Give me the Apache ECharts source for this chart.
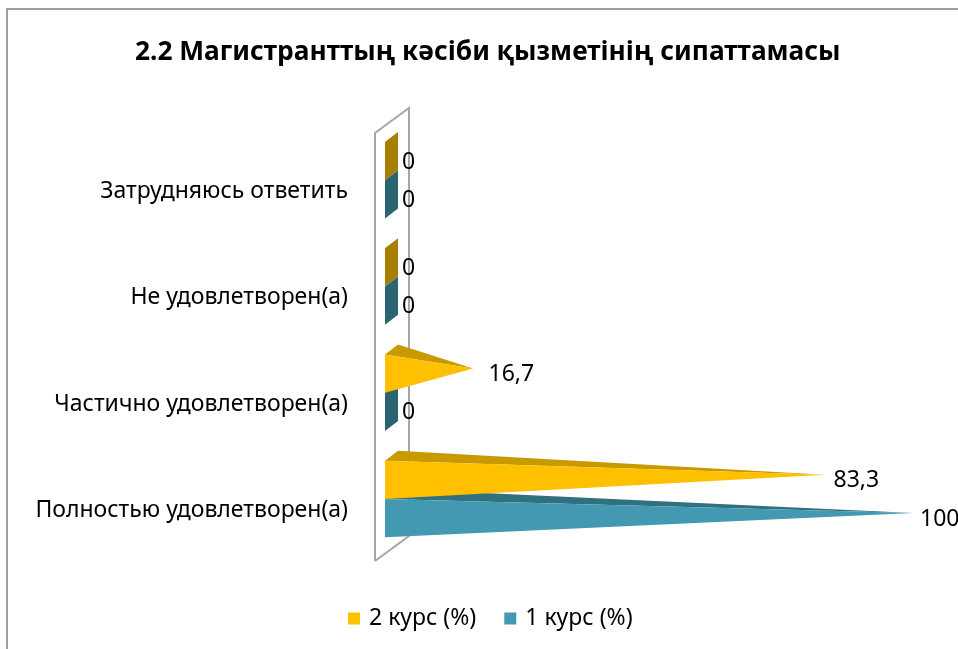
<!DOCTYPE html>
<html>
<head>
<meta charset="utf-8">
<script src="https://cdn.jsdelivr.net/npm/echarts@6/dist/echarts.min.js"></script>
<style>
html,body{margin:0;padding:0;background:#fff;}
#chart{width:958px;height:649px;}
</style>
</head>
<body>
<div id="chart"></div>
<script>
var titleText = '2.2 Магистранттың кәсіби қызметінің сипаттамасы';
var categories = ['Полностью удовлетворен(а)', 'Частично удовлетворен(а)', 'Не удовлетворен(а)', 'Затрудняюсь ответить'];
var seriesNames = ['2 курс (%)', '1 курс (%)'];
var course2 = [83.3, 16.7, 0, 0];
var course1 = [100, 0, 0, 0];

var FONT = 'Noto Sans';
var palettes = [
  {front: '#FFC000', top: '#C99A00', flat: '#A77E00'},
  {front: '#4299B1', top: '#31717F', flat: '#2A6473'}
];

function fmt(v) { return String(v).replace('.', ','); }

function makeRender(sIdx) {
  var pal = palettes[sIdx];
  return function (params, api) {
    var v = api.value(0), c = api.value(1);
    var p0 = api.coord([0, c]);
    var pt = api.coord([v, c]);
    var band = api.size([0, 1])[1];
    var h = band * 0.36;
    var dx = h * 0.34, dy = -h * 0.26;
    var top = sIdx === 0 ? p0[1] - h : p0[1];
    var bot = top + h;
    var x0 = p0[0];
    var children = [];
    if (v === 0) {
      children.push({type: 'polygon', shape: {points: [[x0, top], [x0 + dx, top + dy], [x0 + dx, bot + dy], [x0, bot]]}, style: {fill: pal.flat}});
    } else {
      var tip = [pt[0], (top + bot) / 2 + dy / 2];
      children.push({type: 'polygon', shape: {points: [[x0, top], [x0 + dx, top + dy], tip]}, style: {fill: pal.top}});
      children.push({type: 'polygon', shape: {points: [[x0, top], [x0, bot], tip]}, style: {fill: pal.front}});
    }
    children.push({type: 'text', style: {text: fmt(v), x: pt[0] + 17 - 0.1 * v, y: (top + bot) / 2 + 1, fill: '#000', fontSize: 23, fontFamily: FONT, align: 'left', verticalAlign: 'middle'}});
    return {type: 'group', children: children};
  };
}

function wallRender(params, api) {
  var cs = params.coordSys;
  var fx = cs.x - 10, ty = cs.y + 6, by = cs.y + cs.height + 9;
  var bx = 34, byo = -25;
  return {type: 'polyline', shape: {points: [[fx, by], [fx, ty], [fx + bx, ty + byo], [fx + bx, by + byo], [fx, by]]}, style: {stroke: '#A6A6A6', lineWidth: 2, fill: null}};
}

function toData(arr) { return arr.map(function (v, i) { return [v, i]; }); }

var chart = echarts.init(document.getElementById('chart'));
chart.setOption({
  backgroundColor: '#fff',
  animation: false,
  title: {text: titleText, left: 130, top: 35, textStyle: {fontFamily: FONT, fontSize: 26.3, fontWeight: 'bold', color: '#000'}},
  graphic: [{type: 'rect', shape: {x: 7, y: 9, width: 1000, height: 700}, style: {fill: null, stroke: '#A0A0A0', lineWidth: 2}, z: 100}],
  legend: {data: seriesNames, bottom: 14, left: 343, icon: 'rect', itemWidth: 12, itemHeight: 12, itemGap: 28,
    textStyle: {fontFamily: FONT, fontSize: 23, color: '#000', padding: [0, 0, 0, 4]}},
  grid: {left: 385, right: 45, top: 127, bottom: 97},
  xAxis: {type: 'value', min: 0, max: 100, show: false},
  yAxis: {type: 'category', data: categories, axisLine: {show: false}, axisTick: {show: false}, splitLine: {show: false},
    axisLabel: {fontFamily: FONT, fontSize: 23, lineHeight: 23, color: '#000', margin: 37, verticalAlign: 'top'}},
  series: [
    {type: 'custom', name: 'wall', data: [[0, 0]], renderItem: wallRender, silent: true, z: 1},
    {type: 'custom', name: seriesNames[1], data: toData(course1), encode: {x: 0, y: 1}, renderItem: makeRender(1), itemStyle: {color: palettes[1].front}, z: 2},
    {type: 'custom', name: seriesNames[0], data: toData(course2), encode: {x: 0, y: 1}, renderItem: makeRender(0), itemStyle: {color: palettes[0].front}, z: 3}
  ]
});
</script>
</body>
</html>
